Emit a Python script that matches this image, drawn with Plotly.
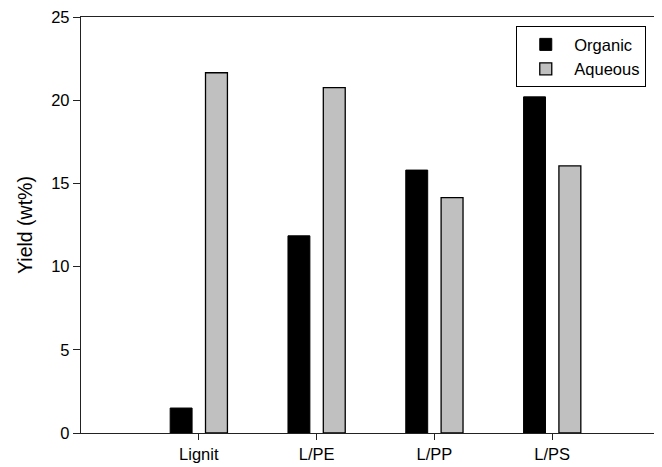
import plotly.graph_objects as go

categories = ["Lignit", "L/PE", "L/PP", "L/PS"]
organic = [1.5, 11.85, 15.8, 20.2]
aqueous = [21.65, 20.75, 14.15, 16.05]
y_ticks = [0, 5, 10, 15, 20, 25]
series_names = ["Organic", "Aqueous"]

FONT = "Liberation Sans, Arial, sans-serif"

fig = go.Figure()
fig.add_trace(go.Bar(x=categories, y=organic, name=series_names[0],
                     marker=dict(color="black", line=dict(color="black", width=1))))
fig.add_trace(go.Bar(x=categories, y=aqueous, name=series_names[1],
                     marker=dict(color="#c0c0c0", line=dict(color="black", width=1.3))))

fig.update_layout(
    width=662, height=467,
    margin=dict(l=73, r=0, t=9, b=42),
    paper_bgcolor="white", plot_bgcolor="white",
    barmode="group", bargap=0.4, bargroupgap=0.38,
    font=dict(family=FONT, size=16.5, color="black"),
    showlegend=True,
    legend=dict(x=0.739, y=0.978, xanchor="left", yanchor="top",
                bgcolor="white", bordercolor="black", borderwidth=1,
                font=dict(family=FONT, size=16.5, color="black"),
                tracegroupgap=0, itemwidth=47),
)
fig.update_xaxes(
    type="category", range=[-1.0, 4.0],
    showline=True, linecolor="#222", linewidth=1.3, mirror=True,
    ticks="outside", ticklen=6, tickcolor="#222", tickwidth=1.3,
    showgrid=False, zeroline=False, ticklabeloverflow="allow",
    tickfont=dict(family=FONT, size=16.5, color="black"),
)
fig.update_yaxes(
    range=[0, 25], tickvals=y_ticks, automargin=False,
    ticklabeloverflow="allow",
    showline=True, linecolor="#222", linewidth=1.3, mirror=False,
    ticks="outside", ticklen=7, tickcolor="#222", tickwidth=1.3,
    showgrid=False, zeroline=False,
    tickfont=dict(family=FONT, size=16.5, color="black"),
    title=dict(text="Yield (wt%)", font=dict(family=FONT, size=19.5, color="black"), standoff=13),
)

fig.write_html("out.html")
